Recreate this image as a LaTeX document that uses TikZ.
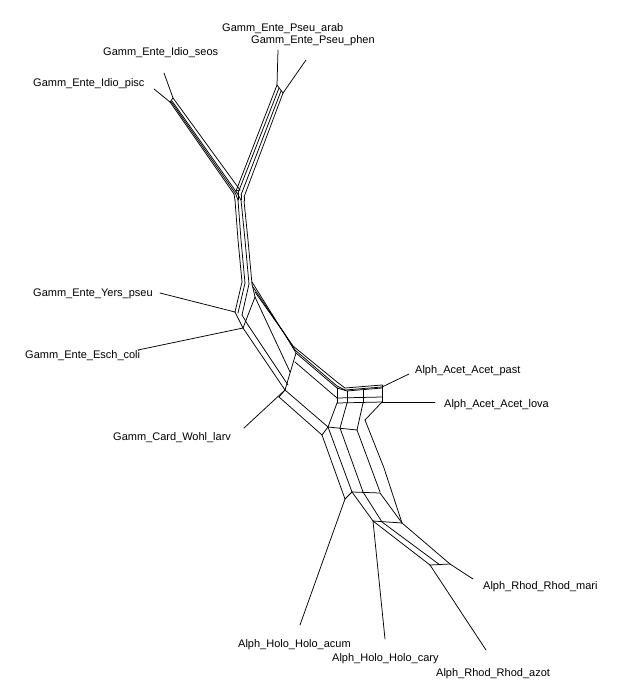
\documentclass[tikz,border=0pt]{standalone}
\usepackage{fontspec}
\setmainfont{Liberation Sans}
\begin{document}
\begin{tikzpicture}[x=1pt,y=-1pt,
  net/.style={line width=0.75pt, line join=round, line cap=round},
  taxon/.style={anchor=base west, inner sep=0pt, font=\fontsize{11}{13}\selectfont}]
\useasboundingbox (0,0) rectangle (636,700);
\fill[white] (0,0) rectangle (636,700);

% taxon labels
\node[taxon] (arab) at (222,32) {Gamm\_Ente\_Pseu\_arab};
\node[taxon] (phen) at (251,44) {Gamm\_Ente\_Pseu\_phen};
\node[taxon] (seos) at (103,56) {Gamm\_Ente\_Idio\_seos};
\node[taxon] (pisc) at (33,87) {Gamm\_Ente\_Idio\_pisc};
\node[taxon] (yers) at (33,296) {Gamm\_Ente\_Yers\_pseu};
\node[taxon] (esch) at (25,358) {Gamm\_Ente\_Esch\_coli};
\node[taxon] (wohl) at (113,440) {Gamm\_Card\_Wohl\_larv};
\node[taxon] (past) at (415,373) {Alph\_Acet\_Acet\_past};
\node[taxon] (lova) at (444,407) {Alph\_Acet\_Acet\_lova};
\node[taxon] (mari) at (483,589) {Alph\_Rhod\_Rhod\_mari};
\node[taxon] (acum) at (238,647) {Alph\_Holo\_Holo\_acum};
\node[taxon] (cary) at (332,661) {Alph\_Holo\_Holo\_cary};
\node[taxon] (azot) at (436,676) {Alph\_Rhod\_Rhod\_azot};

% pendant edges
\draw[net] (154,89) -- (170,102);
\draw[net] (164,73) -- (173,98);
\draw[net] (278,50) -- (277,85);
\draw[net] (306,60) -- (283,93);
\draw[net] (160,293) -- (235,312);
\draw[net] (138,350) -- (243,328);
\draw[net] (244,428) -- (285,390);
\draw[net] (409,374) -- (382,387);
\draw[net] (435,402) -- (382,402);
\draw[net] (473,579) -- (450,564);
\draw[net] (486,650) -- (430,565);
\draw[net] (385,639) -- (373,521);
\draw[net] (300,625) -- (345,499);

% Idio arm
\draw[net] (170,102) -- (173,98);
\draw[net] (170,102) -- (234,194);
\draw[net] (171,101.5) -- (235.5,193.5);
\draw[net] (172,101) -- (237,193);
\draw[net] (173,98) -- (240,190);

% Pseu arm
\draw[net] (277,85) -- (283,93);
\draw[net] (277,85) -- (236,191);
\draw[net] (279,88) -- (238,193);
\draw[net] (281,91) -- (241,195);
\draw[net] (283,93) -- (244,197);

% junction
\draw[net] (234,194) -- (235,200);
\draw[net] (235.5,193.5) -- (238,200);
\draw[net] (237,193) -- (241,200);
\draw[net] (240,190) -- (236,191);
\draw[net] (238,193) -- (238,200);
\draw[net] (241,195) -- (241,200);
\draw[net] (244,197) -- (244,201);

% trunk
\draw[net] (235,200) -- (238,240) -- (242,282);
\draw[net] (238,200) -- (241,240) -- (245,283);
\draw[net] (241,200) -- (245,240) -- (249,284);
\draw[net] (244,201) -- (248,240) -- (252,284);

% Yers / Esch corner
\draw[net] (242,282) -- (235,312);
\draw[net] (245,283) -- (238,313);
\draw[net] (249,284) -- (242,315);
\draw[net] (235,312) -- (243,328);
\draw[net] (242,315) -- (248,325);
\draw[net] (252,284) -- (255,297);
\draw[net] (243,328) -- (255,297);

% lower-left band
\draw[net] (243,328) -- (285,390);
\draw[net] (248,325) -- (288,385);
\draw[net] (255,297) -- (290,372);
\draw[net] (296,353) -- (285,390);

% upper band (trunk to Acet)
\draw[net] (252,282) -- (280,327) -- (293,346) -- (337,382) -- (345,388);
\draw[net] (253,287) -- (282,330) -- (295,350) -- (337,386) -- (345,390);
\draw[net] (255,292) -- (284,333) -- (296,353) -- (337,388);
\draw[net] (295,362) -- (337,398);

% Acet box
\draw[net] (345,388) -- (382,385);
\draw[net] (345,390) -- (382,387);
\draw[net] (337,388) -- (347,391) -- (382,388);
\draw[net] (337,398) -- (382,397);
\draw[net] (337,403) -- (382,402);
\draw[net] (337,388) -- (337,403);
\draw[net] (347,391) -- (347,403);
\draw[net] (363,390) -- (363,403);
\draw[net] (382,385) -- (382,402);

% lower band
\draw[net] (285,390) -- (279,397);
\draw[net] (285,390) -- (328,427);
\draw[net] (279,397) -- (322,435);
\draw[net] (328,427) -- (322,435);
\draw[net] (337,403) -- (328,427);
\draw[net] (347,403) -- (340,428);
\draw[net] (363,403) -- (357,430);
\draw[net] (382,402) -- (365,420);
\draw[net] (328,427) -- (357,430);

% descending band
\draw[net] (322,435) -- (345,499);
\draw[net] (328,427) -- (352,492);
\draw[net] (340,428) -- (363,492);
\draw[net] (357,430) -- (380,492);
\draw[net] (365,420) -- (384,468) -- (402,523);
\draw[net] (352,492) -- (380,493);
\draw[net] (345,499) -- (352,492);

% Holo / Rhod part
\draw[net] (352,492) -- (373,521);
\draw[net] (363,492) -- (382,522);
\draw[net] (380,493) -- (402,523);
\draw[net] (373,521) -- (402,523);
\draw[net] (373,521) -- (430,565);
\draw[net] (382,522) -- (440,565);
\draw[net] (402,523) -- (450,564);
\draw[net] (430,565) -- (450,564);
\end{tikzpicture}
\end{document}
